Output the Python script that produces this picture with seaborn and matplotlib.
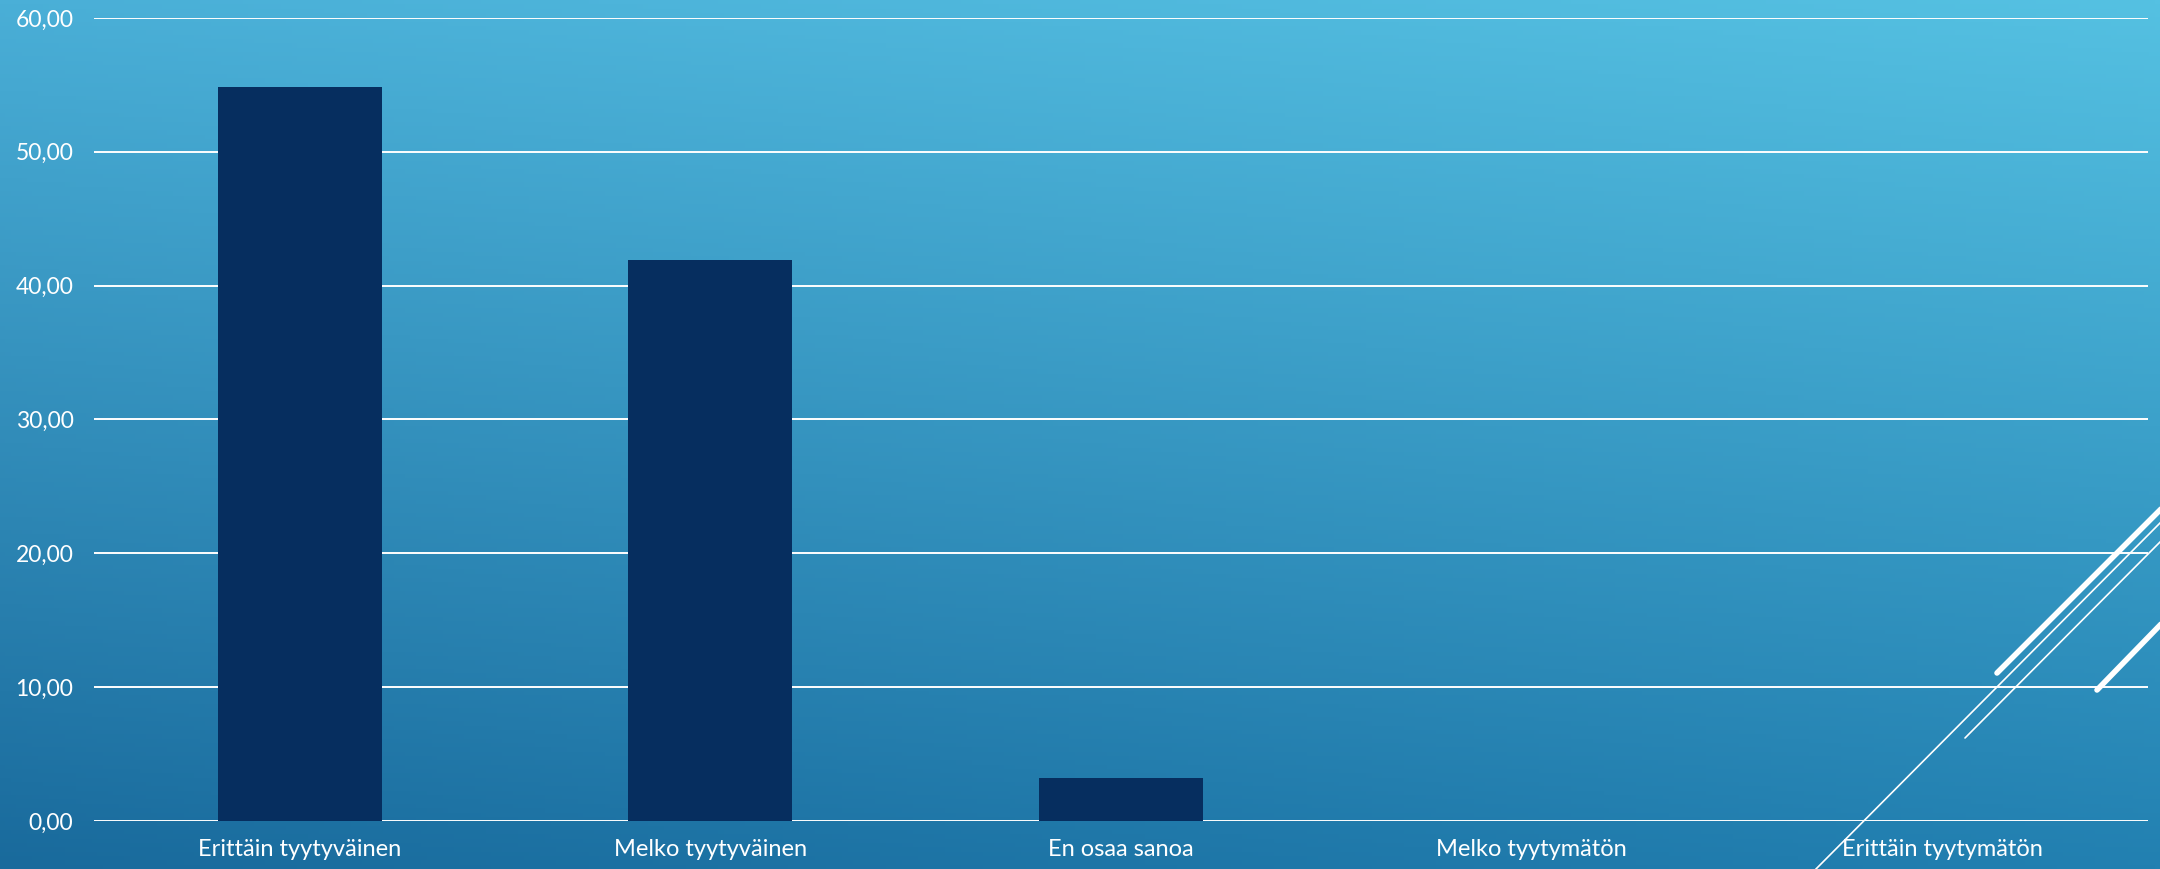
import numpy as np
import pandas as pd
import matplotlib
matplotlib.use("Agg")
import matplotlib.pyplot as plt
from matplotlib.ticker import FuncFormatter
from matplotlib.colors import to_rgb
from matplotlib.lines import Line2D
import seaborn as sns

categories = ["Erittäin tyytyväinen", "Melko tyytyväinen", "En osaa sanoa",
              "Melko tyytymätön", "Erittäin tyytymätön"]
values = [54.84, 41.94, 3.23, 0.0, 0.0]
y_ticks = [0, 10, 20, 30, 40, 50, 60]

W, H = 2160, 869
sns.set_theme(style="white")
plt.rcParams['font.family'] = ['Lato', 'DejaVu Sans']

fig = plt.figure(figsize=(W / 100, H / 100), dpi=100)

# background gradient
bg = fig.add_axes([0, 0, 1, 1], zorder=-10)
tl, tr, bl, br = [np.array(to_rgb(c)) for c in ("#4AAFD7", "#55C1E2", "#196A9C", "#2280B1")]
ny, nx = 200, 400
yy, xx = np.mgrid[0:1:ny * 1j, 0:1:nx * 1j]  # yy: 0 at top
img = ((1 - yy)[..., None] * ((1 - xx)[..., None] * tl + xx[..., None] * tr)
       + yy[..., None] * ((1 - xx)[..., None] * bl + xx[..., None] * br))
bg.imshow(img, aspect="auto", extent=[0, 1, 0, 1], origin="upper")
bg.set_axis_off()

left, right = 94.3 / W, 2147.8 / W
bottom, top = (H - 821) / H, (H - 17.9) / H
ax = fig.add_axes([left, bottom, right - left, top - bottom])
ax.set_facecolor("none")

df = pd.DataFrame({"cat": categories, "val": values})
sns.barplot(data=df, x="cat", y="val", order=categories, color="#062E5F",
            saturation=1, width=0.4, ax=ax, edgecolor="none")

ax.set_ylim(0, 60)
ax.set_xlim(-0.5, len(categories) - 0.5)
ax.set_yticks(y_ticks)
ax.yaxis.set_major_formatter(FuncFormatter(lambda v, p: f"{v:.2f}".replace(".", ",")))
ax.set_axisbelow(True)
ax.yaxis.grid(True, color="white", linewidth=1.4)
ax.xaxis.grid(False)
for s in ax.spines.values():
    s.set_visible(False)
ax.set_xlabel("")
ax.set_ylabel("")
ax.tick_params(axis="y", length=0, pad=15, labelcolor="white", labelsize=16.5)
ax.tick_params(axis="x", length=0, pad=13, labelcolor="white", labelsize=17)

# decorative diagonal strokes (figure pixel coordinates)
def deco(x0, y0, x1, y1, lw):
    fig.add_artist(Line2D([x0 / W, x1 / W], [1 - y0 / H, 1 - y1 / H],
                          transform=fig.transFigure, color="white", linewidth=lw,
                          solid_capstyle="round", zorder=20))

deco(1997, 673, 2165, 505, 4.0)
deco(1813, 872, 2165, 518, 1.2)
deco(1965, 738, 2165, 537, 1.2)
deco(2097, 690, 2165, 620, 4.0)

fig.savefig("out.png", dpi=100)
